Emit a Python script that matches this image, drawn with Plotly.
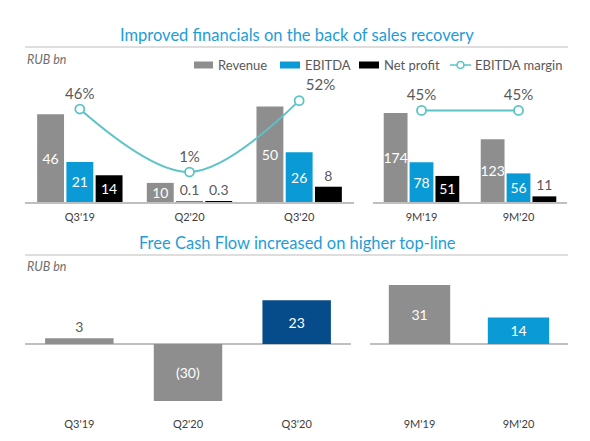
import plotly.graph_objects as go

# ---------------- data ----------------
quarters = ["Q3'19", "Q2'20", "Q3'20"]
periods = ["9M'19", "9M'20"]

revenue_q = [46, 10, 50]
ebitda_q = [21, 0.1, 26]
net_profit_q = [14, 0.3, 8]
margin_q = [46, 1, 52]

revenue_9m = [174, 123]
ebitda_9m = [78, 56]
net_profit_9m = [51, 11]
margin_9m = [45, 45]

fcf_q = [3, -30, 23]
fcf_9m = [31, 14]

title_top = "Improved financials on the back of sales recovery"
title_bottom = "Free Cash Flow increased on higher top-line"
unit_label = "RUB bn"
legend_names = ["Revenue", "EBITDA", "Net profit", "EBITDA margin"]

# ---------------- styles ----------------
W, H = 590, 441
GRAY = "#8E8E8E"
BLUE = "#0A9AD6"
BLACK = "#000000"
TEAL = "#5CC3C6"
NAVY = "#064B8A"
TITLE_C = "#1E9DD8"
TXT = "#595959"
TICK = "#404040"
AXIS_C = "#BFBFBF"
FONT = "Lato"

fcf_q_colors = [GRAY, GRAY, NAVY]
fcf_9m_colors = [GRAY, BLUE]


def px(x):
    return x / W


def py(y):
    return 1 - y / H


def fmt(v):
    if v < 0:
        return f"({abs(v):g})"
    return f"{v:g}"


def positions(values, rng, height_px, thresh=17):
    out = []
    for v in values:
        h = abs(v) / rng * height_px
        out.append("inside" if h > thresh else "outside")
    return out


TOP_Y0, TOP_Y1 = 70, 194
TOP_H = TOP_Y1 - TOP_Y0
tl_range = [0, TOP_H / 1.91]
tr_range = [0, TOP_H / 0.511]
margin_range = [-20.4, (TOP_Y1 - TOP_Y0) / 1.4 - 20.4]

BOT_Y0, BOT_Y1, BOT_ZERO = 270, 402, 336
bot_scale = 1.9
bot_range = [-(BOT_Y1 - BOT_ZERO) / bot_scale, (BOT_ZERO - BOT_Y0) / bot_scale]

fig = go.Figure()


def bar(x, y, color, xa, ya, rng, hpx, width=None):
    return go.Bar(
        x=x, y=y, marker=dict(color=color, line=dict(width=0)),
        text=[fmt(v) for v in y],
        textposition=positions(y, rng, hpx),
        insidetextanchor="middle", textangle=0,
        insidetextfont=dict(color="white", size=14, family=FONT),
        outsidetextfont=dict(color=TXT, size=14, family=FONT),
        constraintext="none", cliponaxis=False,
        xaxis=xa, yaxis=ya, showlegend=False, width=width,
        hoverinfo="skip",
    )


# top-left
fig.add_trace(bar(quarters, revenue_q, GRAY, "x", "y", tl_range[1], TOP_H))
fig.add_trace(bar(quarters, ebitda_q, BLUE, "x", "y", tl_range[1], TOP_H))
fig.add_trace(bar(quarters, net_profit_q, BLACK, "x", "y", tl_range[1], TOP_H))
fig.add_trace(go.Scatter(
    x=quarters, y=margin_q, mode="lines+markers+text",
    line=dict(color=TEAL, width=2, shape="spline", smoothing=1.0),
    marker=dict(symbol="circle", size=9, color="white", line=dict(color=TEAL, width=1.8)),
    text=[f"{v}%" for v in margin_q],
    textposition=["top center", "top center", "top right"],
    textfont=dict(size=15, color=TXT, family=FONT),
    xaxis="x", yaxis="y5", showlegend=False, cliponaxis=False, hoverinfo="skip",
))

# top-right
fig.add_trace(bar(periods, revenue_9m, GRAY, "x2", "y2", tr_range[1], TOP_H))
fig.add_trace(bar(periods, ebitda_9m, BLUE, "x2", "y2", tr_range[1], TOP_H))
fig.add_trace(bar(periods, net_profit_9m, BLACK, "x2", "y2", tr_range[1], TOP_H))
fig.add_trace(go.Scatter(
    x=periods, y=margin_9m, mode="lines+markers+text",
    line=dict(color=TEAL, width=2),
    marker=dict(symbol="circle", size=9, color="white", line=dict(color=TEAL, width=1.8)),
    text=[f"{v}%" for v in margin_9m],
    textposition="top center",
    textfont=dict(size=15, color=TXT, family=FONT),
    xaxis="x2", yaxis="y6", showlegend=False, cliponaxis=False, hoverinfo="skip",
))

# bottom
fig.add_trace(bar(quarters, fcf_q, fcf_q_colors, "x3", "y3",
                  bot_range[1], BOT_ZERO - BOT_Y0, width=0.63))
fig.add_trace(bar(periods, fcf_9m, fcf_9m_colors, "x4", "y4",
                  bot_range[1], BOT_ZERO - BOT_Y0, width=0.62))

xcommon = dict(type="category", showgrid=False, zeroline=False,
               tickfont=dict(size=11, color=TICK, family=FONT),
               ticks="outside", ticklen=4, tickcolor="rgba(0,0,0,0)",
               fixedrange=True)
ycommon = dict(showgrid=False, showticklabels=False, fixedrange=True)

fig.update_layout(
    width=W, height=H, margin=dict(l=0, r=0, t=0, b=0),
    paper_bgcolor="white", plot_bgcolor="white",
    barmode="group", bargap=0.2, bargroupgap=0.08,
    font=dict(family=FONT, color=TXT),
    showlegend=False,
    xaxis=dict(xcommon, domain=[px(17), px(346)], anchor="y",
               showline=True, linecolor=AXIS_C, linewidth=1.5),
    yaxis=dict(ycommon, domain=[py(TOP_Y1), py(TOP_Y0)], range=tl_range,
               zeroline=False, anchor="x"),
    yaxis5=dict(ycommon, overlaying="y", range=margin_range, zeroline=False, anchor="x"),
    xaxis2=dict(xcommon, domain=[px(365), px(559)], anchor="y2",
                showline=True, linecolor=AXIS_C, linewidth=1.5),
    yaxis2=dict(ycommon, domain=[py(TOP_Y1), py(TOP_Y0)], range=tr_range,
                zeroline=False, anchor="x2"),
    yaxis6=dict(ycommon, overlaying="y2", range=margin_range, zeroline=False, anchor="x2"),
    xaxis3=dict(xcommon, domain=[px(17), px(343)], anchor="y3", showline=False),
    yaxis3=dict(ycommon, domain=[py(BOT_Y1), py(BOT_Y0)], range=bot_range,
                zeroline=True, zerolinecolor=AXIS_C, zerolinewidth=1.5, anchor="x3"),
    xaxis4=dict(xcommon, domain=[px(362), px(560)], anchor="y4", showline=False),
    yaxis4=dict(ycommon, domain=[py(BOT_Y1), py(BOT_Y0)], range=bot_range,
                zeroline=True, zerolinecolor=AXIS_C, zerolinewidth=1.5, anchor="x4"),
)

shapes = []
annotations = []

# titles and rules
annotations.append(dict(text=title_top, x=px(288.5), y=py(27), xref="paper", yref="paper",
                        showarrow=False, font=dict(size=16.5, color=TITLE_C, family=FONT),
                        xanchor="center", yanchor="middle"))
annotations.append(dict(text=title_bottom, x=px(289), y=py(235), xref="paper", yref="paper",
                        showarrow=False, font=dict(size=16.5, color=TITLE_C, family=FONT),
                        xanchor="center", yanchor="middle"))
for yy in (39, 247):
    shapes.append(dict(type="line", xref="paper", yref="paper", x0=px(17), x1=px(560),
                       y0=py(yy), y1=py(yy), line=dict(color="#D3D3D3", width=1.5)))
for yy in (51, 258):
    annotations.append(dict(text=f"<i>{unit_label}</i>", x=px(17), y=py(yy), xref="paper",
                            yref="paper", showarrow=False, xanchor="left", yanchor="middle",
                            font=dict(size=12.5, color="#6E6E6E", family=FONT)))

# legend (manual)
LY = 57
sw = [(186, 205, GRAY), (272, 292, BLUE), (351, 371, BLACK)]
tx = [208, 295, 374, 465]
for (a, b, c) in sw:
    shapes.append(dict(type="rect", xref="paper", yref="paper", x0=px(a), x1=px(b),
                       y0=py(LY + 3.5), y1=py(LY - 3.5), fillcolor=c, line=dict(width=0)))
shapes.append(dict(type="line", xref="paper", yref="paper", x0=px(442), x1=px(463),
                   y0=py(LY), y1=py(LY), line=dict(color=TEAL, width=1.5)))
shapes.append(dict(type="circle", xref="paper", yref="paper", x0=px(449), x1=px(456),
                   y0=py(LY + 3.5), y1=py(LY - 3.5), fillcolor="white",
                   line=dict(color=TEAL, width=1.5)))
for name, x in zip(legend_names, tx):
    annotations.append(dict(text=name, x=px(x), y=py(LY), xref="paper", yref="paper",
                            showarrow=False, xanchor="left", yanchor="middle",
                            font=dict(size=13, color=TXT, family=FONT)))

fig.update_layout(shapes=shapes, annotations=annotations)

fig.write_html("out.html")
